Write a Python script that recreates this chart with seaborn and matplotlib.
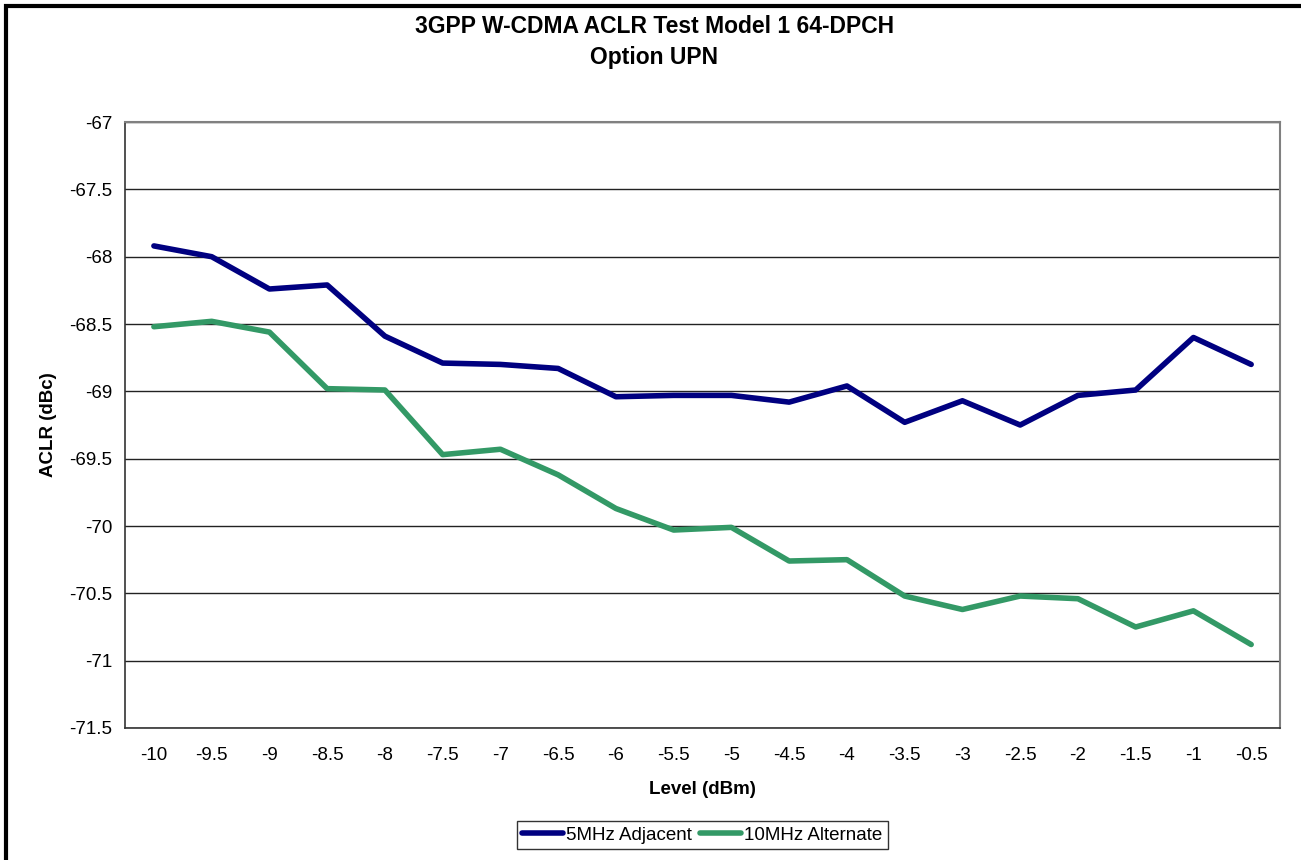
import pandas as pd
import numpy as np
import matplotlib.pyplot as plt
import seaborn as sns
import matplotlib

sns.set_style('white')
matplotlib.rcParams['font.family'] = ['Liberation Sans', 'DejaVu Sans']
matplotlib.rcParams['text.color'] = 'black'
matplotlib.rcParams['axes.labelcolor'] = 'black'
matplotlib.rcParams['xtick.labelcolor'] = 'black'
matplotlib.rcParams['ytick.labelcolor'] = 'black'

# Data
levels = ['-10', '-9.5', '-9', '-8.5', '-8', '-7.5', '-7', '-6.5', '-6', '-5.5',
          '-5', '-4.5', '-4', '-3.5', '-3', '-2.5', '-2', '-1.5', '-1', '-0.5']
adjacent_5mhz = [-67.92, -68.00, -68.24, -68.21, -68.59, -68.79, -68.80, -68.83, -69.04, -69.03,
                 -69.03, -69.08, -68.96, -69.23, -69.07, -69.25, -69.03, -68.99, -68.60, -68.80]
alternate_10mhz = [-68.52, -68.48, -68.56, -68.98, -68.99, -69.47, -69.43, -69.62, -69.87, -70.03,
                   -70.01, -70.26, -70.25, -70.52, -70.62, -70.52, -70.54, -70.75, -70.63, -70.88]
series_names = ['5MHz Adjacent', '10MHz Alternate']
colors = ['#000080', '#339966']

df = pd.DataFrame({
    'Level': levels * 2,
    'ACLR': adjacent_5mhz + alternate_10mhz,
    'Series': [series_names[0]] * len(levels) + [series_names[1]] * len(levels),
})

fs = 13.5

fig = plt.figure(figsize=(13.01, 8.60), dpi=100)
ax = fig.add_axes([0.0961, 0.1535, 0.8878, 0.7046])

sns.lineplot(ax=ax, data=df, x='Level', y='ACLR', hue='Series', palette=colors,
             sort=False, linewidth=4, legend=True)

# axes styling (Excel-like)
ax.set_xlim(-0.5, len(levels) - 0.5)
ax.set_ylim(-71.5, -67)
yt = np.arange(-71.5, -66.9, 0.5)
ax.set_yticks(yt)
ax.set_yticklabels([f'{v:g}' for v in yt])
ax.set_xticks(range(len(levels)))
ax.set_xticklabels(levels)
ax.set_xticks(np.arange(-0.5, len(levels), 1), minor=True)
ax.tick_params(axis='x', which='major', length=0, labelsize=fs, pad=14)
ax.tick_params(axis='x', which='minor', length=5, width=1, color='#333333', direction='out')
ax.tick_params(axis='y', length=6, width=1, color='#333333', labelsize=fs, pad=3)
ax.grid(axis='y', color='#222222', linewidth=1)
ax.set_axisbelow(True)
for side in ['left', 'bottom']:
    ax.spines[side].set_color('#333333')
    ax.spines[side].set_linewidth(1.2)
for side in ['top', 'right']:
    ax.spines[side].set_color('#808080')
    ax.spines[side].set_linewidth(1.5)

ax.set_xlabel('Level (dBm)', fontweight='bold', fontsize=fs, labelpad=12)
ax.set_ylabel('ACLR (dBc)', fontweight='bold', fontsize=fs, labelpad=9)

fig.suptitle('3GPP W-CDMA ACLR Test Model 1 64-DPCH\nOption UPN', x=0.503, y=0.983,
             fontweight='bold', fontsize=16.5, linespacing=1.45)

handles, labels_ = ax.get_legend_handles_labels()
leg = ax.legend(handles, labels_, ncol=2, loc='center', bbox_to_anchor=(702 / 1301, 1 - 835 / 860),
                bbox_transform=fig.transFigure, fontsize=fs, frameon=True, fancybox=False,
                handlelength=2.2, handletextpad=0.15, columnspacing=0.4, borderpad=0.3,
                borderaxespad=0, edgecolor='black')
leg.get_frame().set_linewidth(1)

# outer chart border
border = plt.Rectangle((6 / 1301, -0.01), 1.1, 1 - 6 / 860 + 0.01, transform=fig.transFigure,
                       fill=False, edgecolor='black', linewidth=3)
fig.add_artist(border)

plt.savefig('out.png', dpi=100)
